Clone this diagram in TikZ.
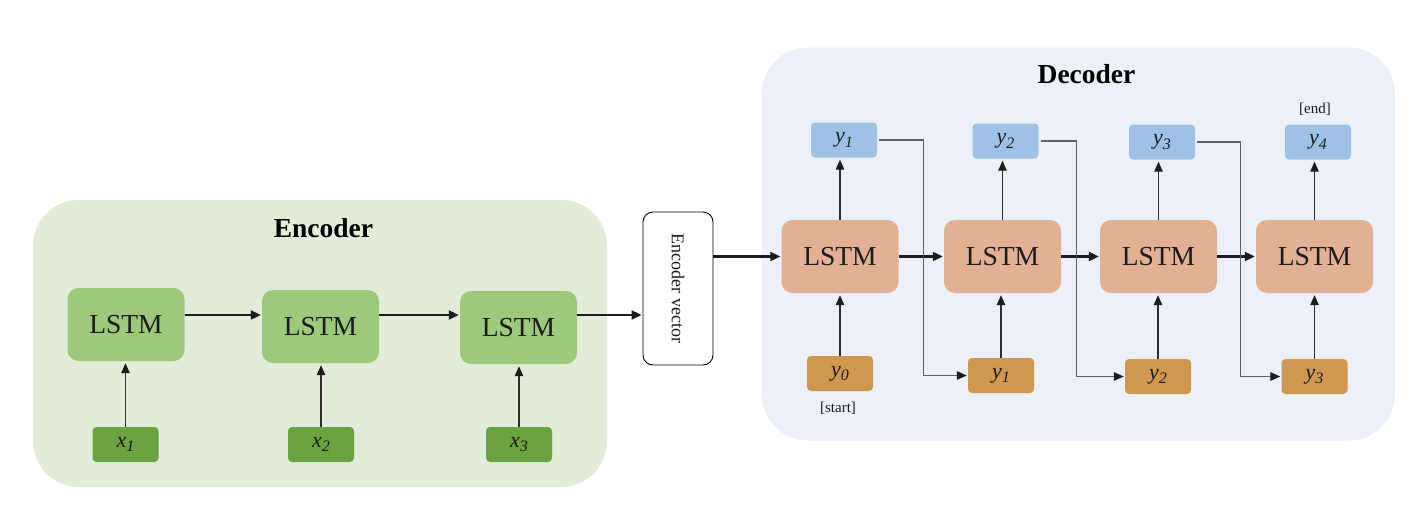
\documentclass[tikz,border=0pt]{standalone}
\usepackage{fontspec}
\setmainfont{Liberation Serif}
\usetikzlibrary{arrows.meta,calc}
\definecolor{encbg}{HTML}{E2EDD9}
\definecolor{enclstm}{HTML}{9DC97D}
\definecolor{encin}{HTML}{6AA441}
\definecolor{decbg}{HTML}{EBF0F9}
\definecolor{declstm}{HTML}{E2B094}
\definecolor{decout}{HTML}{9DC2E6}
\definecolor{decin}{HTML}{CF9750}
\definecolor{ink}{HTML}{1C1C1C}
\definecolor{vline}{HTML}{2E2E2E}
\definecolor{fbline}{HTML}{5A606B}
\newcommand\fsz[1]{\fontsize{#1}{#1}\selectfont}
\newcommand\vsub[2]{\textit{#1}\raisebox{-4.5pt}{\fsz{16}\textit{#2}}}
\begin{document}
\begin{tikzpicture}[x=1pt,y=-1pt,
  container/.style={draw=none, rounded corners=46pt, inner sep=0pt},
  lstmbox/.style={draw=none, rounded corners=11pt, inner sep=0pt,
    minimum width=117pt, minimum height=73pt, text=ink, font=\fsz{27.5}},
  smallbox/.style={draw=none, rounded corners=4pt, inner sep=0pt,
    minimum width=66pt, minimum height=35pt, text=ink, font=\fsz{22}},
  title/.style={font=\fsz{27.5}\bfseries, text=black, inner sep=0pt},
  tag/.style={font=\fsz{15}, text=ink, inner sep=0pt},
  harr/.style={draw=ink, line width=2.1pt, -{Triangle[length=10pt,width=9pt]}, shorten >=1pt},
  varr/.style={draw=vline, line width=1.1pt, -{Triangle[length=10pt,width=8.5pt,color=ink]}, shorten >=2pt},
  farr/.style={draw=fbline, line width=1.3pt, -{Triangle[length=10pt,width=8.5pt,color=ink]}, shorten <=2pt, shorten >=1pt},
]
\useasboundingbox (0,0) rectangle (1428,517);
\fill[white] (0,0) rectangle (1428,517);

% containers
\node[container, fill=encbg, minimum width=574pt, minimum height=287pt] (enc) at (320,343.5) {};
\node[container, fill=decbg, minimum width=633pt, minimum height=393pt] (dec) at (1078.5,244) {};
\node[title] (enctitle) at (323.5,228) {Encoder};
\node[title] (dectitle) at (1086.5,74) {Decoder};

% encoder
\node[lstmbox, fill=enclstm] (e1) at (126,324.5) {LSTM};
\node[lstmbox, fill=enclstm] (e2) at (320.5,326.5) {LSTM};
\node[lstmbox, fill=enclstm] (e3) at (518.5,327.5) {LSTM};
\node[smallbox, fill=encin] (x1) at (125.5,444.5) {\vsub{x}{1}};
\node[smallbox, fill=encin] (x2) at (321,444.5) {\vsub{x}{2}};
\node[smallbox, fill=encin] (x3) at (519,444.5) {\vsub{x}{3}};
\coordinate (encrow) at (0,315);

% encoder vector
\node[draw=black, line width=0.9pt, fill=white, rounded corners=10pt, inner sep=0pt,
  minimum width=70pt, minimum height=153pt] (ev) at (678,288.5) {};
\node[rotate=-90, font=\fsz{18}, text=ink, inner sep=0pt] (evtext) at (ev.center) {Encoder vector};

% decoder
\node[lstmbox, fill=declstm] (d1) at (840,256.5) {LSTM};
\node[lstmbox, fill=declstm] (d2) at (1002.5,256.5) {LSTM};
\node[lstmbox, fill=declstm] (d3) at (1158.5,256.5) {LSTM};
\node[lstmbox, fill=declstm] (d4) at (1314.5,256.5) {LSTM};
\node[smallbox, fill=decout] (o1) at (844,140) {\vsub{y}{1}};
\node[smallbox, fill=decout] (o2) at (1005.5,141) {\vsub{y}{2}};
\node[smallbox, fill=decout] (o3) at (1162,142) {\vsub{y}{3}};
\node[smallbox, fill=decout] (o4) at (1318,142) {\vsub{y}{4}};
\node[smallbox, fill=decin] (i0) at (840,373.5) {\vsub{y}{0}};
\node[smallbox, fill=decin] (i1) at (1001,375.5) {\vsub{y}{1}};
\node[smallbox, fill=decin] (i2) at (1158,376.5) {\vsub{y}{2}};
\node[smallbox, fill=decin] (i3) at (1314.5,376.5) {\vsub{y}{3}};
\node[tag] (start) at (838,408) {[start]};
\node[tag] (end) at (1315,109) {[end]};

% encoder connectors
\draw[varr] (x1.north) -- (x1.north |- e1.south);
\draw[varr] (x2.north) -- (x2.north |- e2.south);
\draw[varr] (x3.north) -- (x3.north |- e3.south);
\draw[harr] (e1.east |- encrow) -- (e2.west |- encrow);
\draw[harr] (e2.east |- encrow) -- (e3.west |- encrow);
\draw[harr] (e3.east |- encrow) -- (ev.west |- encrow);
\draw[harr] (ev.east |- d1.west) -- (d1.west);

% decoder connectors
\draw[harr] (d1.east) -- (d2.west);
\draw[harr] (d2.east) -- (d3.west);
\draw[harr] (d3.east) -- (d4.west);
\draw[varr] (d1.north) -- (d1.north |- o1.south);
\draw[varr] (d2.north) -- (d2.north |- o2.south);
\draw[varr] (d3.north) -- (d3.north |- o3.south);
\draw[varr] (d4.north) -- (d4.north |- o4.south);
\draw[varr] (i0.north) -- (i0.north |- d1.south);
\draw[varr] (i1.north) -- (i1.north |- d2.south);
\draw[varr] (i2.north) -- (i2.north |- d3.south);
\draw[varr] (i3.north) -- (i3.north |- d4.south);
\draw[farr] (o1.east) -- ++(46.5,0) |- (i1.west);
\draw[farr] (o2.east) -- ++(37.5,0) |- (i2.west);
\draw[farr] (o3.east) -- ++(45,0) |- (i3.west);
\end{tikzpicture}
\end{document}
